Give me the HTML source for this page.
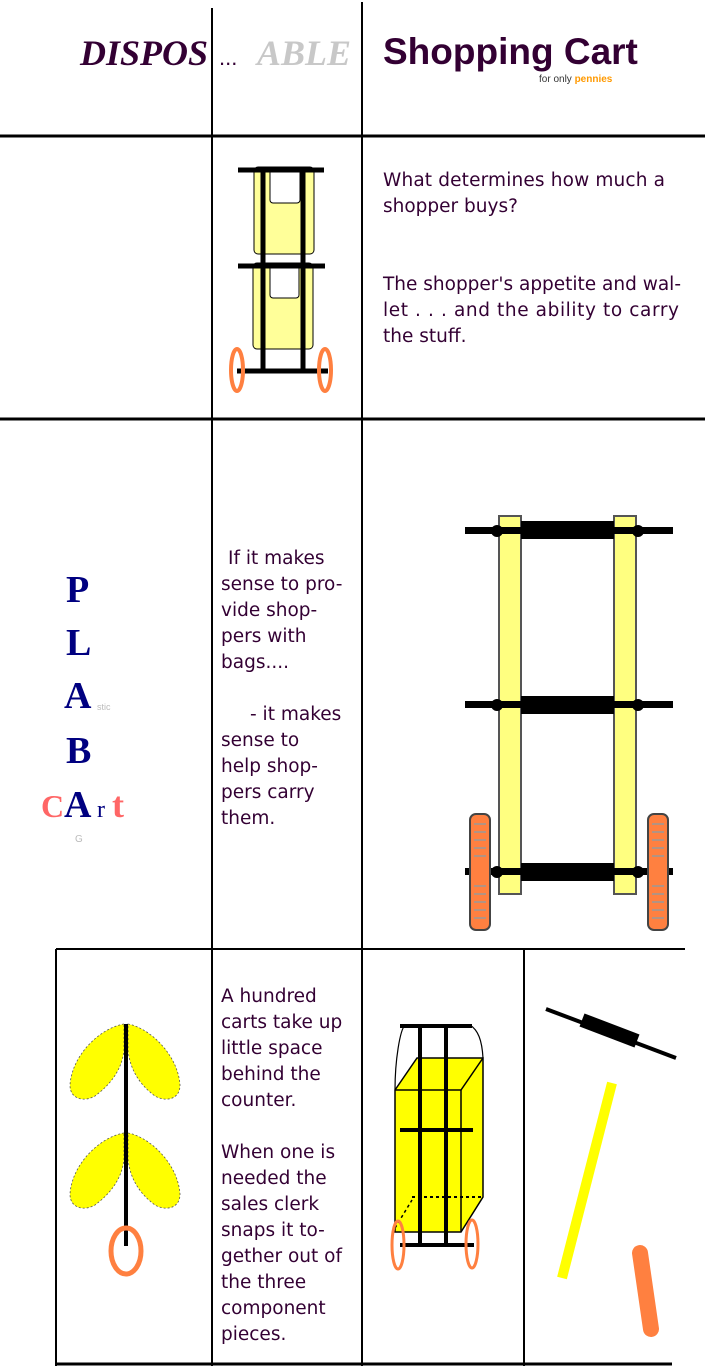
<!DOCTYPE html>
<html><head><style>
html,body{margin:0;padding:0;background:#fff;}
svg{display:block;}
.t{font-family:"DejaVu Sans","Liberation Sans",sans-serif;font-size:18.5px;fill:#330033;}
</style></head><body>
<svg width="705" height="1367" viewBox="0 0 705 1367" xmlns="http://www.w3.org/2000/svg">
<g stroke="#000" stroke-width="2">
<line x1="212" y1="8" x2="212" y2="1366"/>
<line x1="362" y1="2" x2="362" y2="1366"/>
<line x1="0" y1="136" x2="705" y2="136" stroke-width="3"/>
<line x1="0" y1="419" x2="705" y2="419" stroke-width="3"/>
<line x1="56" y1="949" x2="685" y2="949"/>
<line x1="56" y1="949" x2="56" y2="1366"/>
<line x1="524" y1="949" x2="524" y2="1366"/>
<line x1="56" y1="1364" x2="672" y2="1364" stroke-width="3"/>
</g>
<text x="80" y="65" font-family="Liberation Serif,serif" font-style="italic" font-weight="bold" font-size="36" fill="#330033">DISPOS</text>
<text x="219" y="65" font-family="Liberation Sans,sans-serif" font-size="22" fill="#330033">...</text>
<text x="257" y="65" font-family="Liberation Serif,serif" font-style="italic" font-weight="bold" font-size="36" fill="#c8c8c8">ABLE</text>
<text x="383" y="64" font-family="Liberation Sans,sans-serif" font-weight="bold" font-size="37" fill="#330033">Shopping Cart</text>
<text x="539" y="82" font-family="Liberation Sans,sans-serif" font-size="10" fill="#333">for only <tspan fill="#ff9900" font-weight="bold">pennies</tspan></text>
<g>
<rect x="254" y="167" width="60" height="87" rx="4" fill="#ffff99" stroke="#000"/>
<rect x="270" y="167" width="30" height="36" rx="3" fill="#fff" stroke="#000"/>
<rect x="253" y="263" width="60" height="86" rx="4" fill="#ffff99" stroke="#000"/>
<rect x="270" y="263" width="29" height="35" rx="3" fill="#fff" stroke="#000"/>
<g stroke="#000" stroke-width="5">
<line x1="238" y1="170" x2="324" y2="170"/>
<line x1="238" y1="266" x2="325" y2="266"/>
<line x1="263" y1="170" x2="263" y2="372"/>
<line x1="303" y1="170" x2="303" y2="372"/>
<line x1="237" y1="371" x2="328" y2="371"/>
</g>
<ellipse cx="237" cy="370" rx="6" ry="21" fill="none" stroke="#ff8040" stroke-width="4"/>
<ellipse cx="325" cy="370" rx="6" ry="21" fill="none" stroke="#ff8040" stroke-width="4"/>
</g>
<text class="t"><tspan x="383" y="186" textLength="282">What determines how much a</tspan><tspan x="383" y="212">shopper buys?</tspan>
<tspan x="383" y="290" textLength="298">The shopper's appetite and wal-</tspan><tspan x="383" y="316" textLength="296">let  . . .  and the ability to carry</tspan><tspan x="383" y="342">the stuff.</tspan></text>
<g font-family="Liberation Serif,serif" font-weight="bold">
<text font-size="38" x="66" y="602" fill="#000080">P</text>
<text font-size="38" x="66" y="655" fill="#000080">L</text>
<text font-size="38" x="64" y="708" fill="#000080">A</text>
<text font-size="38" x="66" y="763" fill="#000080">B</text>
<text font-size="32" x="41" y="817" fill="#ff6666">C</text>
<text font-size="38" x="64" y="817" fill="#000080">A</text>
<text font-size="24" x="97" y="817" fill="#000080" font-weight="normal">r</text>
<text font-size="36" x="112" y="817" fill="#ff6666">t</text>
</g>
<text x="97" y="710" font-family="Liberation Sans,sans-serif" font-size="9" fill="#bbb">stic</text>
<text x="75" y="842" font-family="Liberation Sans,sans-serif" font-size="10" fill="#bbb">G</text>
<text class="t"><tspan x="228" y="564">If it makes</tspan><tspan x="221" y="590">sense to pro-</tspan><tspan x="221" y="616">vide shop-</tspan><tspan x="221" y="642">pers with</tspan><tspan x="221" y="668">bags....</tspan>
<tspan x="250" y="720">- it makes</tspan><tspan x="221" y="746">sense to</tspan><tspan x="221" y="772">help shop-</tspan><tspan x="221" y="798">pers carry</tspan><tspan x="221" y="824">them.</tspan></text>
<g>
<rect x="499" y="516" width="22" height="378" fill="#ffff80" stroke="#555" stroke-width="2"/>
<rect x="614" y="516" width="22" height="378" fill="#ffff80" stroke="#555" stroke-width="2"/>
<g fill="#000">
<rect x="465" y="527" width="208" height="7"/><rect x="521" y="521" width="93" height="18"/>
<rect x="465" y="701" width="208" height="7"/><rect x="521" y="696" width="93" height="18"/>
<rect x="465" y="868" width="208" height="7"/><rect x="521" y="863" width="93" height="18"/>
<circle cx="497" cy="531" r="6"/><circle cx="638" cy="531" r="6"/>
<circle cx="497" cy="705" r="6"/><circle cx="638" cy="705" r="6"/>
<circle cx="497" cy="872" r="6"/><circle cx="638" cy="872" r="6"/>
</g>
<rect x="470" y="814" width="20" height="116" rx="6" fill="#ff8040" stroke="#444" stroke-width="2"/>
<rect x="648" y="814" width="20" height="116" rx="6" fill="#ff8040" stroke="#444" stroke-width="2"/>
<g stroke="#999" stroke-width="1.5" stroke-dasharray="12 3">
<path d="M474 824H486M474 832H486M474 840H486M474 848H486M474 856H486M474 886H486M474 894H486M474 902H486M474 910H486M474 918H486"/>
<path d="M652 824H664M652 832H664M652 840H664M652 848H664M652 856H664M652 886H664M652 894H664M652 902H664M652 910H664M652 918H664"/>
</g>
</g>
<g fill="#ffff00" stroke="#555" stroke-width="0.8" stroke-dasharray="2 2">
<path d="M124 1024 C100 1028 72 1055 70 1085 C70 1100 85 1102 95 1096 C110 1085 122 1070 124 1050 Z"/>
<path d="M128 1024 C150 1028 178 1055 180 1085 C180 1100 165 1102 155 1096 C140 1085 130 1070 128 1050 Z"/>
<path d="M124 1133 C100 1137 72 1164 70 1194 C70 1209 85 1211 95 1205 C110 1194 122 1179 124 1159 Z"/>
<path d="M128 1133 C150 1137 178 1164 180 1194 C180 1209 165 1211 155 1205 C140 1194 130 1179 128 1159 Z"/>
</g>
<line x1="126" y1="1024" x2="126" y2="1246" stroke="#000" stroke-width="4"/>
<ellipse cx="126" cy="1251" rx="15" ry="23" fill="none" stroke="#ff8040" stroke-width="5"/>
<text class="t"><tspan x="221" y="1002">A hundred</tspan><tspan x="221" y="1028">carts take up</tspan><tspan x="221" y="1054">little space</tspan><tspan x="221" y="1080">behind the</tspan><tspan x="221" y="1106">counter.</tspan>
<tspan x="221" y="1158">When one is</tspan><tspan x="221" y="1184">needed the</tspan><tspan x="221" y="1210">sales clerk</tspan><tspan x="221" y="1236">snaps it to-</tspan><tspan x="221" y="1262">gether out of</tspan><tspan x="221" y="1288">the three</tspan><tspan x="221" y="1314">component</tspan><tspan x="221" y="1340">pieces.</tspan></text>
<g>
<polygon points="395,1090 417,1058 483,1058 483,1197 461,1232 395,1232" fill="#ffff00" stroke="#000" stroke-width="1.5"/>
<polyline points="395,1090 461,1090 483,1058" fill="none" stroke="#000" stroke-width="1.5"/>
<line x1="461" y1="1090" x2="461" y2="1232" stroke="#000" stroke-width="1.5"/>
<path d="M395 1090 C395 1060 400 1030 405 1025 M483 1058 C482 1040 478 1030 470 1025" fill="none" stroke="#000" stroke-width="1.2"/>
<line x1="412" y1="1197" x2="483" y2="1197" stroke="#000" stroke-width="2" stroke-dasharray="3 3"/>
<line x1="395" y1="1228" x2="412" y2="1200" stroke="#000" stroke-width="1.5" stroke-dasharray="3 3"/>
<g stroke="#000" stroke-width="4">
<line x1="400" y1="1026" x2="472" y2="1026"/>
<line x1="420" y1="1026" x2="420" y2="1245"/>
<line x1="446" y1="1026" x2="446" y2="1245"/>
<line x1="400" y1="1130" x2="473" y2="1130"/>
<line x1="400" y1="1245" x2="474" y2="1245"/>
</g>
<ellipse cx="398" cy="1245" rx="6" ry="24" fill="none" stroke="#ff8040" stroke-width="3"/>
<ellipse cx="472" cy="1244" rx="6" ry="24" fill="none" stroke="#ff8040" stroke-width="3"/>
</g>
<line x1="546" y1="1009" x2="676" y2="1058" stroke="#000" stroke-width="4"/>
<line x1="582" y1="1020" x2="637" y2="1041" stroke="#000" stroke-width="14"/>
<line x1="612" y1="1083" x2="562" y2="1278" stroke="#ffff00" stroke-width="10"/>
<line x1="640" y1="1253" x2="651" y2="1329" stroke="#ff8040" stroke-width="16" stroke-linecap="round"/>
</svg>
</body></html>
